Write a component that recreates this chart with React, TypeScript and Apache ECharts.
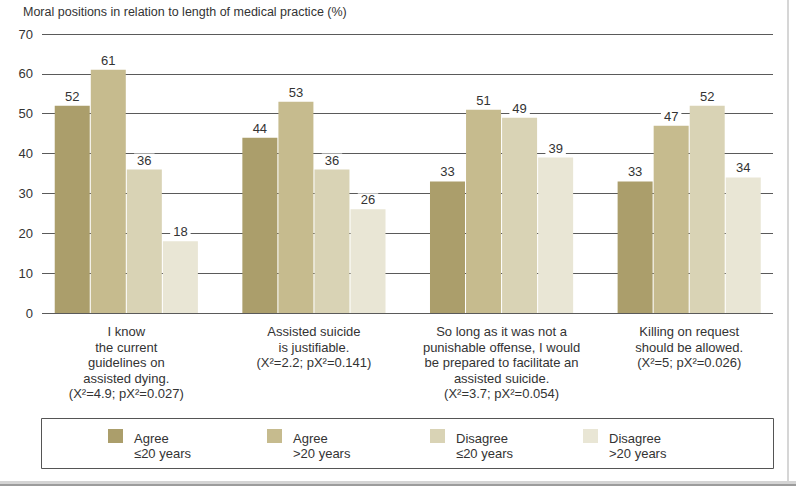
import React, { useEffect, useRef } from "react";
import * as echarts from "echarts";

const titleText = "Moral positions in relation to length of medical practice (%)";

const categories = [
  "I know\nthe current\nguidelines on\nassisted dying.\n(Χ²=4.9; pΧ²=0.027)",
  "Assisted suicide\nis justifiable.\n(Χ²=2.2; pΧ²=0.141)",
  "So long as it was not a\npunishable offense, I would\nbe prepared to facilitate an\nassisted suicide.\n(Χ²=3.7; pΧ²=0.054)",
  "Killing on request\nshould be allowed.\n(Χ²=5; pΧ²=0.026)",
];

const seriesNames = [
  "Agree\n≤20 years",
  "Agree\n>20 years",
  "Disagree\n≤20 years",
  "Disagree\n>20 years",
];

const agreeUpTo20 = [52, 44, 33, 33];
const agreeOver20 = [61, 53, 51, 47];
const disagreeUpTo20 = [36, 36, 49, 52];
const disagreeOver20 = [18, 26, 39, 34];

const seriesValues = [agreeUpTo20, agreeOver20, disagreeUpTo20, disagreeOver20];
const seriesColors = ["#ab9e6b", "#c6bb8e", "#d9d3b5", "#e9e6d5"];

const yMin = 0;
const yMax = 70;
const yInterval = 10;

const legendLefts = [108, 267, 430, 583];

const FONT = "'Liberation Sans', Arial, sans-serif";

export default function App() {
  const ref = useRef<HTMLDivElement>(null);

  useEffect(() => {
    if (!ref.current) return;
    const chart = echarts.init(ref.current, undefined, { renderer: "svg" });

    const option: any = {
      animation: false,
      backgroundColor: "#ffffff",
      textStyle: { fontFamily: FONT },
      title: {
        text: titleText,
        left: 18,
        top: 0,
        textStyle: { fontFamily: FONT, fontSize: 12.5, fontWeight: "normal", color: "#333" },
      },
      grid: [
        { left: 42, right: 23, top: 34, bottom: 173 },
        { left: 32.5, right: 13, top: 34, bottom: 173 },
      ],
      xAxis: [
        { gridIndex: 0, type: "category", data: categories, show: false },
        {
          gridIndex: 1,
          type: "category",
          data: categories,
          axisLine: { show: false },
          axisTick: { show: false },
          axisLabel: {
            interval: 0,
            fontFamily: FONT,
            fontSize: 13,
            lineHeight: 15.5,
            color: "#333",
            margin: 11,
          },
        },
      ],
      yAxis: [
        {
          gridIndex: 0,
          type: "value",
          min: yMin,
          max: yMax,
          interval: yInterval,
          axisLine: { show: false },
          axisTick: { show: false },
          axisLabel: { fontFamily: FONT, fontSize: 13, color: "#333", margin: 9 },
          splitLine: { lineStyle: { color: "#5a5a5a", width: 1 } },
        },
        {
          gridIndex: 1,
          type: "value",
          min: yMin,
          max: yMax,
          interval: yInterval,
          show: false,
          splitLine: { show: false },
        },
      ],
      legend: seriesNames.map((name, i) => ({
        data: [name],
        left: legendLefts[i],
        top: 411.5,
        padding: 0,
        itemWidth: 15,
        itemHeight: 14,
        selectedMode: false,
        icon: "rect",
        formatter: (n: string) =>
          "{s| }\n" + n.split("\n").map((line) => "{t|" + line + "}").join("\n"),
        textStyle: {
          fontFamily: FONT,
          fontSize: 13,
          color: "#333",
          padding: [0, 0, 0, 6],
          rich: {
            s: { fontSize: 1, lineHeight: 19, height: 19 },
            t: { fontFamily: FONT, fontSize: 13, lineHeight: 15, color: "#333" },
          },
        },
      })),
      series: seriesNames.map((name, i) => ({
        name,
        type: "bar",
        xAxisIndex: 1,
        yAxisIndex: 1,
        data: seriesValues[i],
        barWidth: 35,
        barGap: "3%",
        itemStyle: { color: seriesColors[i] },
        label: {
          show: true,
          position: "top",
          distance: 3,
          fontFamily: FONT,
          fontSize: 13,
          color: "#333",
          backgroundColor: "#ffffff",
          padding: [0, 3],
        },
      })),
      graphic: [
        {
          type: "rect",
          shape: { x: 41.5, y: 418.5, width: 732, height: 50 },
          style: { fill: "none", stroke: "#555", lineWidth: 1 },
          silent: true,
        },
        {
          type: "rect",
          shape: { x: 787, y: 0, width: 2, height: 486 },
          style: { fill: "#d6d6d6" },
          silent: true,
        },
        {
          type: "rect",
          shape: { x: 0, y: 481, width: 796, height: 5 },
          style: { fill: "#d4d4d4" },
          silent: true,
        },
        {
          type: "rect",
          shape: { x: 0, y: 484, width: 796, height: 2 },
          style: { fill: "#9c9c9c" },
          silent: true,
        },
      ],
    };

    chart.setOption(option);
    return () => chart.dispose();
  }, []);

  return (
    <div
      ref={ref}
      style={{ position: "fixed", left: 0, top: 0, width: 796, height: 486 }}
    />
  );
}
